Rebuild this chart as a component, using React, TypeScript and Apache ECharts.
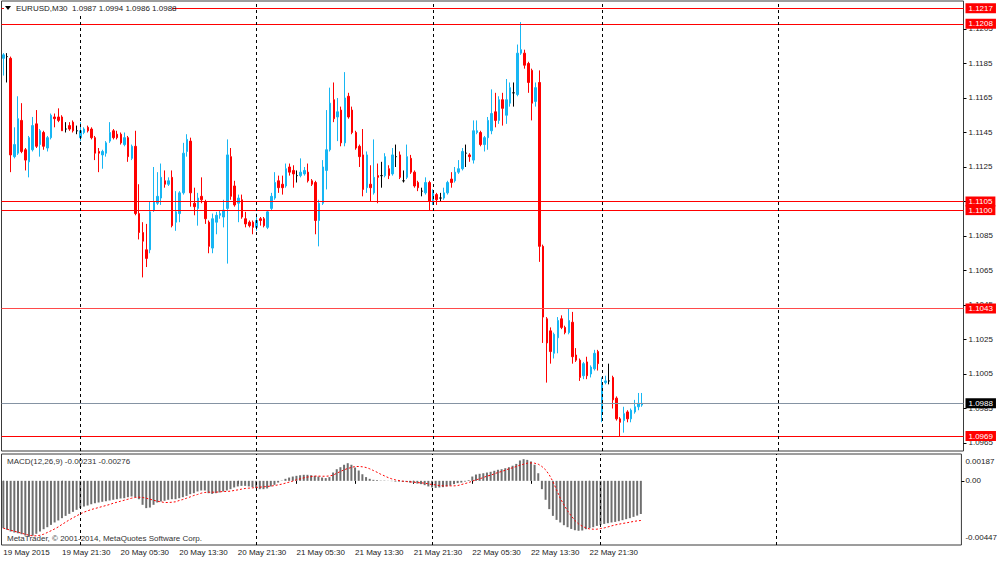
import React, { useEffect, useRef } from "react";
import * as echarts from "echarts";

const FONT = '"Liberation Sans", Arial, sans-serif';

// Time-axis labels (every 16 bars of 30 minutes)
const timeLabels = [
  "19 May 2015", "19 May 21:30", "20 May 05:30", "20 May 13:30", "20 May 21:30",
  "21 May 05:30", "21 May 13:30", "21 May 21:30", "22 May 05:30", "22 May 13:30", "22 May 21:30",
];
const LABEL_STEP = 16;
const TOTAL_SLOTS = 262; // bar slots across the whole chart width (incl. empty future area)
const daySeparators = [21, 69, 117, 163, 211];

// Price tick labels on the right axis
const priceTicks = [1.0965, 1.0985, 1.1005, 1.1025, 1.1045, 1.1065, 1.1085, 1.1105, 1.1125, 1.1145, 1.1165, 1.1185, 1.1205];
const PRICE_MIN = 1.096036;
const PRICE_MAX = 1.122123;

// Horizontal levels
const redLevels = [1.1217, 1.1208, 1.1105, 1.11, 1.1043, 1.0969];
const bidLevel = 1.0988;

// MACD pane range
const MACD_MAX = 0.00187;
const MACD_MIN = -0.00447;

// EURUSD M30 candles: [open, high, low, close]
const ohlc: number[][] = [
  [1.1188, 1.1191, 1.1178, 1.119], [1.1189, 1.1191, 1.1174, 1.1189], [1.1188, 1.1189, 1.1122, 1.1132], [1.1131, 1.1148, 1.113, 1.1138],
  [1.1133, 1.1166, 1.1132, 1.1153], [1.1152, 1.1162, 1.1133, 1.1134], [1.1135, 1.1136, 1.1123, 1.1129], [1.1128, 1.1143, 1.1119, 1.1142],
  [1.1135, 1.1154, 1.1134, 1.1149], [1.115, 1.1158, 1.1136, 1.1137], [1.1138, 1.1147, 1.1131, 1.1146], [1.1145, 1.1146, 1.1135, 1.1137],
  [1.1136, 1.1143, 1.1134, 1.1142], [1.1142, 1.1156, 1.1141, 1.1155], [1.1154, 1.1156, 1.1148, 1.1153], [1.1154, 1.1159, 1.1151, 1.1152],
  [1.1154, 1.1155, 1.1146, 1.1146], [1.1147, 1.1151, 1.1145, 1.1147], [1.1149, 1.1151, 1.1146, 1.1147], [1.1151, 1.1152, 1.1145, 1.1146],
  [1.1146, 1.1149, 1.1144, 1.1146], [1.1142, 1.1151, 1.114, 1.1146], [1.1145, 1.1148, 1.1144, 1.1147], [1.1148, 1.1149, 1.1145, 1.1146],
  [1.1147, 1.1148, 1.1141, 1.1142], [1.1142, 1.1143, 1.1129, 1.1133], [1.1134, 1.1136, 1.1122, 1.1133], [1.1132, 1.1135, 1.1124, 1.1134],
  [1.1133, 1.114, 1.1131, 1.1139], [1.114, 1.1151, 1.1139, 1.1145], [1.1146, 1.1147, 1.1141, 1.1142], [1.1144, 1.1146, 1.1141, 1.1142],
  [1.1144, 1.1145, 1.1138, 1.1139], [1.1138, 1.1145, 1.1137, 1.1142], [1.1142, 1.1143, 1.1128, 1.1131], [1.113, 1.1138, 1.1129, 1.1137],
  [1.1137, 1.1146, 1.1097, 1.1098], [1.1098, 1.1115, 1.1083, 1.1087], [1.1087, 1.1093, 1.1061, 1.1082], [1.1077, 1.1092, 1.1067, 1.1072],
  [1.1077, 1.1105, 1.1075, 1.1099], [1.11, 1.1125, 1.1099, 1.1105], [1.1104, 1.1122, 1.1103, 1.1108], [1.1107, 1.1127, 1.1103, 1.1119],
  [1.1117, 1.1123, 1.1113, 1.1115], [1.1115, 1.1119, 1.1114, 1.1117], [1.1119, 1.1123, 1.109, 1.1091], [1.1093, 1.1111, 1.1088, 1.1099],
  [1.1098, 1.1111, 1.1093, 1.111], [1.111, 1.1139, 1.1109, 1.1133], [1.1134, 1.1144, 1.1131, 1.1141], [1.114, 1.1142, 1.1102, 1.111],
  [1.1104, 1.1113, 1.1097, 1.1102], [1.1101, 1.111, 1.1091, 1.1107], [1.1108, 1.1119, 1.1104, 1.1106], [1.1105, 1.1106, 1.1092, 1.1095],
  [1.1093, 1.1094, 1.1075, 1.1079], [1.1078, 1.1098, 1.1075, 1.1095], [1.1093, 1.1099, 1.1086, 1.1097], [1.1097, 1.11, 1.1095, 1.1098],
  [1.1096, 1.1106, 1.109, 1.11], [1.1101, 1.1141, 1.1069, 1.1132], [1.1131, 1.1136, 1.1106, 1.1108], [1.1114, 1.1117, 1.1102, 1.1103],
  [1.1104, 1.1109, 1.1093, 1.1107], [1.1106, 1.1109, 1.1095, 1.1096], [1.1095, 1.1099, 1.109, 1.1092], [1.1093, 1.1094, 1.109, 1.1091],
  [1.1093, 1.1094, 1.1086, 1.109], [1.109, 1.1098, 1.1088, 1.1094], [1.1095, 1.1096, 1.1091, 1.1094], [1.1095, 1.1096, 1.109, 1.1091],
  [1.109, 1.11, 1.1089, 1.1099], [1.1101, 1.111, 1.11, 1.1108], [1.1107, 1.1122, 1.1106, 1.1116], [1.1117, 1.112, 1.111, 1.1113],
  [1.1115, 1.112, 1.1109, 1.1113], [1.1114, 1.1127, 1.1113, 1.1124], [1.1125, 1.1127, 1.112, 1.1122], [1.1123, 1.1126, 1.1113, 1.1121],
  [1.112, 1.1123, 1.1116, 1.112], [1.112, 1.113, 1.1119, 1.1122], [1.1121, 1.1125, 1.112, 1.1123], [1.1122, 1.1127, 1.1116, 1.1117],
  [1.1117, 1.1118, 1.1114, 1.1115], [1.1116, 1.1117, 1.1086, 1.1094], [1.1094, 1.1106, 1.1079, 1.1104], [1.1104, 1.1129, 1.1103, 1.1125],
  [1.1123, 1.1158, 1.1112, 1.1135], [1.1135, 1.1171, 1.1134, 1.1162], [1.1164, 1.1174, 1.1151, 1.1153], [1.1154, 1.1165, 1.114, 1.1157],
  [1.1158, 1.116, 1.1137, 1.1139], [1.1139, 1.118, 1.1137, 1.1165], [1.1166, 1.1168, 1.1153, 1.1154], [1.1158, 1.116, 1.1144, 1.1145],
  [1.1145, 1.1146, 1.1135, 1.1136], [1.1137, 1.1138, 1.1125, 1.1131], [1.1132, 1.1147, 1.1108, 1.1112], [1.1113, 1.1134, 1.111, 1.1132],
  [1.1115, 1.1126, 1.1105, 1.1113], [1.111, 1.1141, 1.1109, 1.1119], [1.112, 1.1127, 1.1104, 1.1119], [1.112, 1.1128, 1.1113, 1.112],
  [1.112, 1.1133, 1.1119, 1.1131], [1.1124, 1.1126, 1.1118, 1.112], [1.1121, 1.1136, 1.112, 1.1132], [1.1131, 1.1138, 1.1125, 1.1131],
  [1.1132, 1.1134, 1.1118, 1.1119], [1.1117, 1.1123, 1.1116, 1.1117], [1.1119, 1.1138, 1.1118, 1.1131], [1.113, 1.1132, 1.1121, 1.1122],
  [1.1122, 1.1123, 1.1113, 1.1114], [1.1116, 1.1117, 1.1111, 1.1113], [1.1111, 1.1113, 1.1108, 1.1111], [1.111, 1.1119, 1.1109, 1.1116],
  [1.1116, 1.1117, 1.11, 1.1105], [1.1105, 1.1112, 1.1103, 1.1111], [1.1109, 1.111, 1.1103, 1.1106], [1.1107, 1.111, 1.1105, 1.1107],
  [1.1107, 1.1113, 1.1106, 1.111], [1.111, 1.1117, 1.1109, 1.1116], [1.1118, 1.1122, 1.1113, 1.1116], [1.1117, 1.1125, 1.1116, 1.1122],
  [1.1122, 1.1129, 1.1121, 1.1124], [1.1124, 1.1136, 1.1123, 1.1134], [1.1133, 1.1138, 1.1125, 1.1133], [1.1132, 1.1133, 1.1128, 1.1131],
  [1.1129, 1.1152, 1.1127, 1.1146], [1.1145, 1.1152, 1.1144, 1.1146], [1.1145, 1.1146, 1.1137, 1.1138], [1.1138, 1.1143, 1.1134, 1.1142],
  [1.1142, 1.1154, 1.1135, 1.1152], [1.1146, 1.117, 1.1144, 1.1156], [1.1157, 1.1168, 1.1148, 1.1152], [1.1152, 1.1166, 1.115, 1.1164],
  [1.1164, 1.1168, 1.1149, 1.1159], [1.1155, 1.1176, 1.115, 1.1164], [1.1162, 1.1174, 1.116, 1.1171], [1.1168, 1.1174, 1.116, 1.1168],
  [1.1167, 1.1196, 1.1166, 1.1191], [1.1191, 1.1209, 1.119, 1.1193], [1.1191, 1.1193, 1.1182, 1.1184], [1.1185, 1.1186, 1.1168, 1.1174],
  [1.1181, 1.1182, 1.1152, 1.1162], [1.1163, 1.1174, 1.116, 1.1171], [1.1174, 1.1181, 1.107, 1.1079], [1.1079, 1.108, 1.1023, 1.1038],
  [1.1037, 1.1038, 1.1, 1.1023], [1.103, 1.1032, 1.1011, 1.1018], [1.1017, 1.1029, 1.1014, 1.1028], [1.1026, 1.1038, 1.1017, 1.1036],
  [1.1037, 1.1039, 1.1031, 1.1032], [1.1032, 1.1033, 1.1028, 1.1029], [1.1029, 1.1043, 1.1028, 1.1036], [1.1035, 1.1041, 1.1011, 1.1015],
  [1.1016, 1.102, 1.1012, 1.1013], [1.1013, 1.1014, 1.1001, 1.1003], [1.1004, 1.1012, 1.1002, 1.1011], [1.1012, 1.1015, 1.1002, 1.1004],
  [1.1005, 1.101, 1.1003, 1.1009], [1.1008, 1.1019, 1.1007, 1.1017], [1.1018, 1.1019, 1.1007, 1.1011], [1.0982, 1.1003, 1.0977, 1.1],
  [1.1, 1.1004, 1.0999, 1.1001], [1.1001, 1.1011, 1.0999, 1.1001], [1.1003, 1.1004, 1.0985, 1.099], [1.0991, 1.0992, 1.0978, 1.0979],
  [1.0979, 1.098, 1.0969, 1.0977], [1.0978, 1.0986, 1.0971, 1.0982], [1.0983, 1.0984, 1.0977, 1.0979], [1.0979, 1.0985, 1.0977, 1.0984],
  [1.0983, 1.099, 1.0982, 1.0986], [1.0986, 1.0994, 1.0984, 1.0988], [1.0987, 1.0994, 1.0986, 1.0988],
];

// MACD(12,26,9) main line (histogram)
const macdMain = [
  -0.0033, -0.00341, -0.00353, -0.0036, -0.00365, -0.00372, -0.00381, -0.00388, -0.00383, -0.00369,
  -0.00353, -0.00337, -0.00323, -0.00307, -0.0029, -0.00276, -0.0026, -0.00244, -0.0023, -0.00216,
  -0.00202, -0.0019, -0.00179, -0.00172, -0.00163, -0.00156, -0.00151, -0.00146, -0.00142, -0.00137,
  -0.00132, -0.00128, -0.00123, -0.00121, -0.00114, -0.00109, -0.00114, -0.00128, -0.00167, -0.0019,
  -0.00186, -0.00167, -0.00151, -0.00144, -0.00139, -0.00132, -0.00128, -0.00128, -0.00121, -0.00114,
  -0.00105, -0.00093, -0.00086, -0.00074, -0.00067, -0.00067, -0.00086, -0.00091, -0.00086, -0.00081,
  -0.00074, -0.00067, -0.00058, -0.00046, -0.00039, -0.00035, -0.00035, -0.00039, -0.00044, -0.00051,
  -0.00058, -0.00058, -0.00053, -0.00039, -0.00028, -0.00012, 0.00002, 0.00014, 0.00023, 0.0003,
  0.00035, 0.00039, 0.00042, 0.00042, 0.00039, 0.00035, 0.0003, 0.00023, 0.00019, 0.00026,
  0.00058, 0.00081, 0.00095, 0.00112, 0.00123, 0.00112, 0.00093, 0.00072, 0.00046, 0.00026,
  0.00014, 0.00007, 0.00005, 0.00002, 0.00002, -0.00001, -0.00002, -0.00005, -0.00005, -0.00007,
  -0.00007, -0.00012, -0.00014, -0.00019, -0.00023, -0.0003, -0.00039, -0.00046, -0.00049, -0.00046,
  -0.00044, -0.00039, -0.00033, -0.00023, -0.00016, -0.00012, -0.00005, 0.00005, 0.0003, 0.00044,
  0.00049, 0.00053, 0.00058, 0.00063, 0.0007, 0.00077, 0.00081, 0.00088, 0.00095, 0.00105,
  0.00118, 0.00142, 0.00151, 0.00146, 0.00135, 0.00112, 0.00053, -0.00058, -0.00132, -0.00197,
  -0.00244, -0.00272, -0.0029, -0.00309, -0.00323, -0.00335, -0.00344, -0.00348, -0.00346, -0.00337,
  -0.0033, -0.00323, -0.00314, -0.00307, -0.003, -0.00295, -0.0029, -0.00286, -0.00281, -0.00274,
  -0.00267, -0.0026, -0.00251, -0.00242, -0.00231,
];

// MACD signal line
const macdSignal = [
  -0.0033, -0.00337, -0.00344, -0.00351, -0.00358, -0.00365, -0.00372, -0.00379, -0.00383, -0.00383,
  -0.00379, -0.00372, -0.0036, -0.00348, -0.00335, -0.00321, -0.00304, -0.00288, -0.00272, -0.00258,
  -0.00244, -0.0023, -0.00218, -0.00209, -0.002, -0.00193, -0.00186, -0.00179, -0.00172, -0.00165,
  -0.00156, -0.00149, -0.00142, -0.00135, -0.00128, -0.00121, -0.00116, -0.00114, -0.00116, -0.00121,
  -0.00128, -0.00135, -0.00142, -0.00146, -0.00151, -0.00151, -0.00149, -0.00146, -0.00137, -0.0013,
  -0.00121, -0.00112, -0.00102, -0.00095, -0.00086, -0.00081, -0.00079, -0.00079, -0.00079, -0.00077,
  -0.00074, -0.00074, -0.00072, -0.00067, -0.00063, -0.00058, -0.00053, -0.00051, -0.00049, -0.00046,
  -0.00044, -0.00042, -0.00039, -0.00037, -0.00033, -0.00028, -0.00023, -0.00016, -0.00009, -0.00002,
  0.00007, 0.00014, 0.00021, 0.00026, 0.0003, 0.00033, 0.00033, 0.00032, 0.00032, 0.00034,
  0.00039, 0.00053, 0.00065, 0.00077, 0.00086, 0.00093, 0.001, 0.001, 0.00098, 0.00093,
  0.00084, 0.00072, 0.0006, 0.00046, 0.00035, 0.00023, 0.00014, 0.00007, 0.00002, -0.00002,
  -0.00005, -0.00007, -0.00009, -0.00012, -0.00014, -0.00016, -0.00021, -0.00026, -0.00028, -0.00033,
  -0.00035, -0.00035, -0.00035, -0.00035, -0.00033, -0.00026, -0.00019, -0.00012, -0.00002, 0.00007,
  0.00014, 0.00023, 0.00033, 0.00039, 0.00049, 0.00058, 0.00065, 0.00074, 0.00084, 0.00091,
  0.001, 0.00109, 0.00116, 0.00123, 0.00125, 0.00123, 0.00116, 0.001, 0.00077, 0.00042,
  -0.00005, -0.00063, -0.00121, -0.00167, -0.00209, -0.00244, -0.00276, -0.003, -0.00316, -0.00328,
  -0.00335, -0.00337, -0.00337, -0.00332, -0.00328, -0.00321, -0.00314, -0.00307, -0.00302, -0.00297,
  -0.00293, -0.00288, -0.00283, -0.00279, -0.00276,
];

const BULL = "#17b6f3";
const BEAR = "#ff0000";

export default function App() {
  const ref = useRef<HTMLDivElement>(null);

  useEffect(() => {
    document.body.style.margin = "0";
    if (!ref.current) return;
    const chart = echarts.init(ref.current, undefined, { renderer: "svg" });

    const cats = Array.from({ length: TOTAL_SLOTS }, (_, i) => String(i));
    const showLabel = (i: number) => i % LABEL_STEP === 0 && i / LABEL_STEP < timeLabels.length;

    const vLines = daySeparators.map((i) => ({
      xAxis: i,
      lineStyle: { color: "#000", width: 1, type: [3, 3] as any },
      label: { show: false },
    }));

    const levelLabel = (v: number, bg: string) => ({
      show: true,
      position: "end" as const,
      distance: 2,
      formatter: v.toFixed(4),
      color: "#fff",
      backgroundColor: bg,
      fontSize: 8,
      fontFamily: FONT,
      lineHeight: 9,
      padding: [1, 3, 0, 3],
    });

    const option: any = {
      animation: false,
      backgroundColor: "#fff",
      textStyle: { fontFamily: FONT },
      grid: [
        { left: 1.5, right: 36.5, top: 1, height: 450, show: true, borderColor: "#3a3a3a", borderWidth: 1 },
        { left: 1.5, right: 36.5, top: 454, height: 91, show: true, borderColor: "#3a3a3a", borderWidth: 1 },
      ],
      xAxis: [
        { type: "category", gridIndex: 0, data: cats, boundaryGap: true, show: false },
        {
          type: "category",
          gridIndex: 1,
          data: cats,
          boundaryGap: true,
          axisLine: { show: false },
          axisTick: { show: true, interval: showLabel, alignWithLabel: true, length: 3, lineStyle: { color: "#000" } },
          axisLabel: {
            interval: showLabel,
            formatter: (_v: string, i: number) => timeLabels[i / LABEL_STEP] ?? "",
            align: "left",
            margin: 3,
            fontSize: 8,
            color: "#222",
          },
          splitLine: { show: false },
        },
      ],
      yAxis: [
        {
          type: "value",
          gridIndex: 0,
          position: "right",
          min: PRICE_MIN,
          max: PRICE_MAX,
          splitLine: { show: false },
          axisLine: { show: false },
          axisTick: { show: true, customValues: priceTicks, length: 3, lineStyle: { color: "#000" } },
          axisLabel: { customValues: priceTicks, formatter: (v: number) => v.toFixed(4), fontSize: 8, color: "#222", margin: 5 },
        },
        {
          type: "value",
          gridIndex: 1,
          position: "right",
          min: MACD_MIN,
          max: MACD_MAX,
          splitLine: { show: false },
          axisLine: { show: false },
          axisTick: { show: true, customValues: [0], length: 3, lineStyle: { color: "#000" } },
          axisLabel: {
            customValues: [MACD_MAX - 0.0005, 0, MACD_MIN + 0.0005],
            formatter: (v: number) => (v > 0 ? MACD_MAX.toFixed(5) : v < 0 ? MACD_MIN.toFixed(5) : "0.00"),
            fontSize: 8,
            color: "#222",
            margin: 4,
          },
        },
      ],
      series: [
        {
          type: "candlestick",
          xAxisIndex: 0,
          yAxisIndex: 0,
          data: ohlc.map(([o, h, l, c]) => [o, c, l, h]),
          barWidth: 2,
          itemStyle: {
            color: BULL,
            color0: BEAR,
            borderColor: BULL,
            borderColor0: BEAR,
            borderColorDoji: "#000",
            borderWidth: 1,
          },
          markLine: {
            symbol: "none",
            silent: true,
            animation: false,
            precision: 6,
            data: [
              ...redLevels.map((v) => ({
                yAxis: v,
                lineStyle: { color: v === 1.1043 ? "#ff4a4a" : "#ff0000", width: 1, type: "solid" },
                label: levelLabel(v, "#ff0000"),
              })),
              {
                yAxis: bidLevel,
                lineStyle: { color: "#8593a3", width: 1, type: "solid" },
                label: levelLabel(bidLevel, "#000"),
              },
              ...vLines,
            ],
          },
        },
        {
          type: "bar",
          xAxisIndex: 1,
          yAxisIndex: 1,
          data: macdMain,
          barWidth: 2,
          itemStyle: { color: "#6f6f6f" },
          markLine: { symbol: "none", silent: true, animation: false, data: vLines },
        },
        {
          type: "line",
          xAxisIndex: 1,
          yAxisIndex: 1,
          data: macdSignal,
          symbol: "none",
          showSymbol: false,
          lineStyle: { color: "#ff0000", width: 1, type: [2, 2] },
          z: 3,
        },
      ],
      graphic: [
        { type: "rect", z: 100, shape: { x: 4, y: 3, width: 168, height: 10 }, style: { fill: "#fff" } },
        { type: "polygon", z: 101, shape: { points: [[5, 6], [11, 6], [8, 10]] }, style: { fill: "#000" } },
        {
          type: "text",
          z: 101,
          x: 16,
          y: 8,
          style: { text: "EURUSD,M30  1.0987 1.0994 1.0986 1.0988", font: `8px ${FONT}`, fill: "#222", verticalAlign: "middle" },
        },
        {
          type: "text",
          z: 101,
          x: 7,
          y: 461,
          style: { text: "MACD(12,26,9) -0.00231 -0.00276", font: `8px ${FONT}`, fill: "#333", verticalAlign: "middle" },
        },
        {
          type: "text",
          z: 101,
          x: 7,
          y: 538,
          style: { text: "MetaTrader, © 2001-2014, MetaQuotes Software Corp.", font: `8px ${FONT}`, fill: "#333", verticalAlign: "middle" },
        },
      ],
    };

    chart.setOption(option);
    return () => chart.dispose();
  }, []);

  return <div ref={ref} style={{ width: 1000, height: 561 }} />;
}
